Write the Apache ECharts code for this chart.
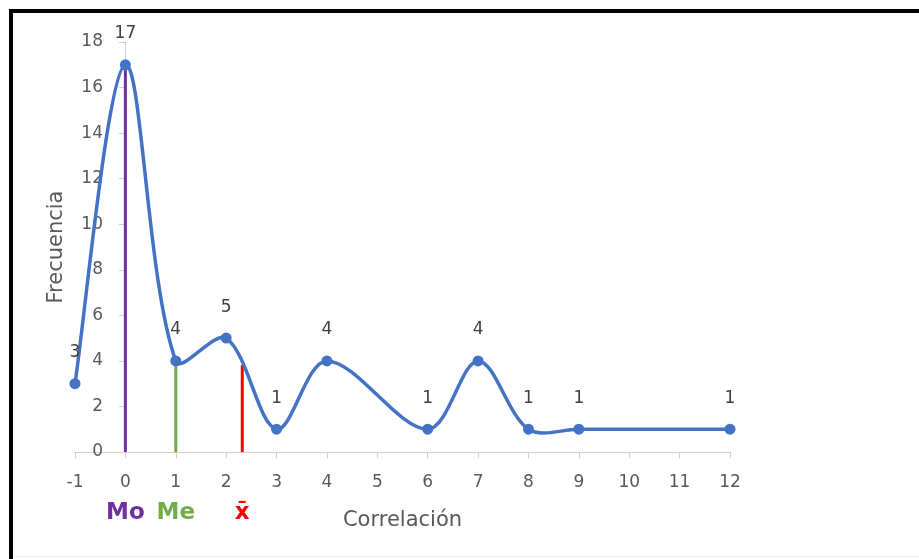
<!DOCTYPE html>
<html>
<head>
<meta charset="utf-8">
<script src="https://cdn.jsdelivr.net/npm/echarts@6/dist/echarts.min.js"></script>
<style>
  html, body { margin: 0; padding: 0; background: #fff; }
  #chart { width: 919px; height: 559px; }
</style>
</head>
<body>
<div id="chart"></div>
<script>
// Frequency of each correlation value
const correlacion = [-1, 0, 1, 2, 3, 4, 6, 7, 8, 9, 12];
const frecuencia  = [3, 17, 4, 5, 1, 4, 1, 4, 1, 1, 1];

// Central tendency markers: position on x and height of each drop line
const medidas  = ['Mo', 'Me', 'x̄'];
const posicion = [0, 1, 2.32];
const altura   = [17, 3.9, 3.82];
const colores  = ['#7030A0', '#70AD47', '#FF0000'];

const FONT = 'DejaVu Sans';
const AZUL = '#4472C4';
const chart = echarts.init(document.getElementById('chart'), null, { renderer: 'canvas' });

const puntos = correlacion.map((x, i) => [x, frecuencia[i]]);

// Smooth curve through the points, computed in pixel space from the axis scales.
// Each point gets a tangent along (next - previous); the handle on each side is
// proportional to the length of the segment on that side, which keeps short
// segments from overshooting.
function curvaSuave(params, api) {
  const p = puntos.map(d => api.coord(d));
  const n = p.length;
  const dist = (a, b) => Math.hypot(b[0] - a[0], b[1] - a[1]);
  const antes = [], despues = [];
  for (let i = 0; i < n; i++) {
    const prev = p[Math.max(i - 1, 0)];
    const next = p[Math.min(i + 1, n - 1)];
    const tx = next[0] - prev[0];
    const ty = next[1] - prev[1];
    let dPrev = i > 0 ? dist(p[i - 1], p[i]) : 0;
    let dNext = i < n - 1 ? dist(p[i], p[i + 1]) : 0;
    if (i === 0) dPrev = dNext;
    if (i === n - 1) dNext = dPrev;
    const tot = dPrev + dNext || 1;
    const fA = dPrev / tot / 3;
    const fD = dNext / tot / 3;
    antes.push([p[i][0] - tx * fA, p[i][1] - ty * fA]);
    despues.push([p[i][0] + tx * fD, p[i][1] + ty * fD]);
  }
  let d = 'M' + p[0][0] + ' ' + p[0][1];
  for (let i = 0; i < n - 1; i++) {
    const c1 = despues[i], c2 = antes[i + 1], e = p[i + 1];
    d += ' C' + c1[0] + ' ' + c1[1] + ' ' + c2[0] + ' ' + c2[1] + ' ' + e[0] + ' ' + e[1];
  }
  return {
    type: 'path',
    shape: { pathData: d },
    style: { fill: null, stroke: AZUL, lineWidth: 3.5, lineJoin: 'round', lineCap: 'round' }
  };
}

const lineasMedida = medidas.map((m, i) => ({
  name: m,
  type: 'line',
  data: [[posicion[i], 0], [posicion[i], altura[i]]],
  symbol: 'none',
  lineStyle: { color: colores[i], width: 3 },
  z: 1,
  silent: true
}));

chart.setOption({
  animation: false,
  backgroundColor: '#ffffff',
  grid: { left: 75, right: 189, top: 42, bottom: 107, containLabel: false, outerBoundsMode: 'none' },
  xAxis: {
    type: 'value',
    min: -1, max: 12, interval: 1,
    name: 'Correlación',
    nameLocation: 'middle',
    nameGap: 58,
    nameMoveOverlap: false,
    nameTextStyle: { color: '#595959', fontFamily: FONT, fontSize: 21 },
    axisLine: { onZero: false, lineStyle: { color: '#d0d0d0', width: 1 } },
    axisTick: { show: true, length: 6, lineStyle: { color: '#d0d0d0' } },
    axisLabel: { color: '#595959', fontFamily: FONT, fontSize: 17, margin: 22 },
    splitLine: { show: false }
  },
  yAxis: {
    type: 'value',
    min: 0, max: 18, interval: 2,
    position: 'left',
    offset: -50,
    axisLine: { show: true, onZero: false, lineStyle: { color: '#d0d0d0', width: 1 } },
    axisTick: { show: true, length: 6, lineStyle: { color: '#d0d0d0' } },
    axisLabel: { color: '#595959', fontFamily: FONT, fontSize: 17, margin: 22 },
    splitLine: { show: false }
  },
  series: [
    ...lineasMedida,
    {
      name: 'curva',
      type: 'custom',
      data: [0],
      renderItem: curvaSuave,
      z: 2,
      silent: true
    },
    {
      name: 'Frecuencia',
      type: 'line',
      data: puntos,
      symbol: 'circle',
      symbolSize: 11,
      itemStyle: { color: AZUL },
      lineStyle: { width: 0, opacity: 0 },
      z: 3,
      label: {
        show: true,
        position: 'top',
        distance: 17,
        color: '#404040',
        fontFamily: FONT,
        fontSize: 17
      }
    }
  ]
});

function dibujarExtras() {
  const etiquetas = medidas.map((m, i) => {
    const px = chart.convertToPixel({ xAxisIndex: 0 }, posicion[i]);
    return {
      type: 'text',
      x: px,
      y: 513,
      style: {
        text: m,
        fill: colores[i],
        font: 'bold 23px "' + FONT + '"',
        align: 'center',
        verticalAlign: 'middle'
      },
      z: 10
    };
  });
  const nombreY = {
    type: 'text',
    x: 57,
    y: 247,
    rotation: Math.PI / 2,
    style: {
      text: 'Frecuencia',
      fill: '#595959',
      font: '21px "' + FONT + '"',
      align: 'center',
      verticalAlign: 'middle'
    },
    z: 10
  };
  // Frame of the figure
  const marco = [
    { type: 'rect', shape: { x: 9, y: 9, width: 4, height: 550 }, style: { fill: '#000' }, z: 20 },
    { type: 'rect', shape: { x: 9, y: 9, width: 910, height: 4 }, style: { fill: '#000' }, z: 20 },
    { type: 'rect', shape: { x: 13, y: 556, width: 906, height: 1 }, style: { fill: '#ececec' }, z: 20 }
  ];
  chart.setOption({ graphic: { elements: etiquetas.concat([nombreY], marco) } });
}
dibujarExtras();
</script>
</body>
</html>
